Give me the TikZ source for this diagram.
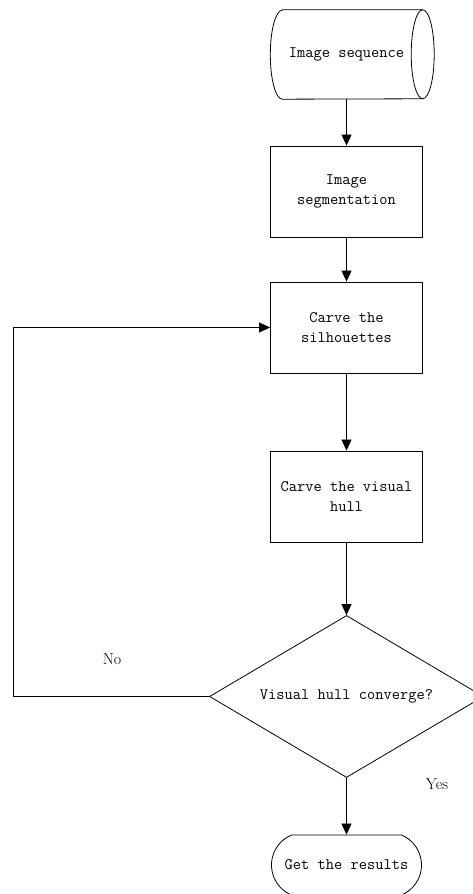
\documentclass[tikz,border=0pt]{standalone}
\usepackage{fontspec}
\usetikzlibrary{arrows.meta,shapes.geometric,shapes.misc}
\tikzset{
    proc/.style={rectangle,draw,line width=0.8pt,minimum width=152pt,minimum height=91pt,inner sep=0,align=center,font=\fontsize{16}{20}\selectfont\ttfamily},
    seqbox/.style={rectangle,minimum width=152pt,minimum height=89pt,inner sep=0,font=\fontsize{16}{20}\selectfont\ttfamily},
    term/.style={rounded rectangle,rounded rectangle arc length=135,draw,line width=0.8pt,minimum width=150pt,minimum height=60pt,inner sep=0,font=\fontsize{16}{20}\selectfont\ttfamily},
    decide/.style={diamond,draw,line width=0.8pt,aspect=1.69,minimum width=274pt,minimum height=162pt,inner sep=0,font=\fontsize{16}{20}\selectfont\ttfamily},
    flow/.style={line width=0.8pt,-{Triangle[length=11pt,width=10pt]}},
    note/.style={font=\fontsize{16}{20}\selectfont\rmfamily}
}
\begin{document}
\begin{tikzpicture}[x=1pt,y=1pt]
    \useasboundingbox (0,0) rectangle (473,894);
    \node[seqbox] (seq) at (346.5,839.5) {Image sequence};
    \draw[line width=0.8pt] ([xshift=12]seq.north west) -- (seq.north east)
        arc[start angle=90,end angle=-90,x radius=11.5,y radius=44.5]
        -- ([xshift=12]seq.south west)
        arc[start angle=270,end angle=90,x radius=12,y radius=44.5] -- cycle;
    \draw[line width=0.8pt] (seq.north east) arc[start angle=90,end angle=270,x radius=11.5,y radius=44.5];
    \node[proc] (seg) at (346.5,702.5) {Image\\segmentation};
    \node[proc] (sil) at (346.5,566.5) {Carve the\\silhouettes};
    \node[proc] (hull) at (346.5,397.5) {Carve the visual\\hull};
    \node[decide] (conv) at (346.5,197.5) {Visual hull converge?};
    \node[term] (res) at (346.5,29) {Get the results};
    \coordinate (back) at (13,197.5);
    % connectors
    \draw[flow] (seg.north |- seq.south) -- (seg.north);
    \draw[flow] (seg.south) -- (sil.north);
    \draw[flow] (sil.south) -- (hull.north);
    \draw[flow] (hull.south) -- (conv.north);
    \draw[flow] (conv.south) -- (res.north);
    \draw[flow] (conv.west) -- (back) |- (sil.west);
    \node[note] (no) at (112,235) {No};
    \node[note] (yes) at (437,110) {Yes};
\end{tikzpicture}
\end{document}
